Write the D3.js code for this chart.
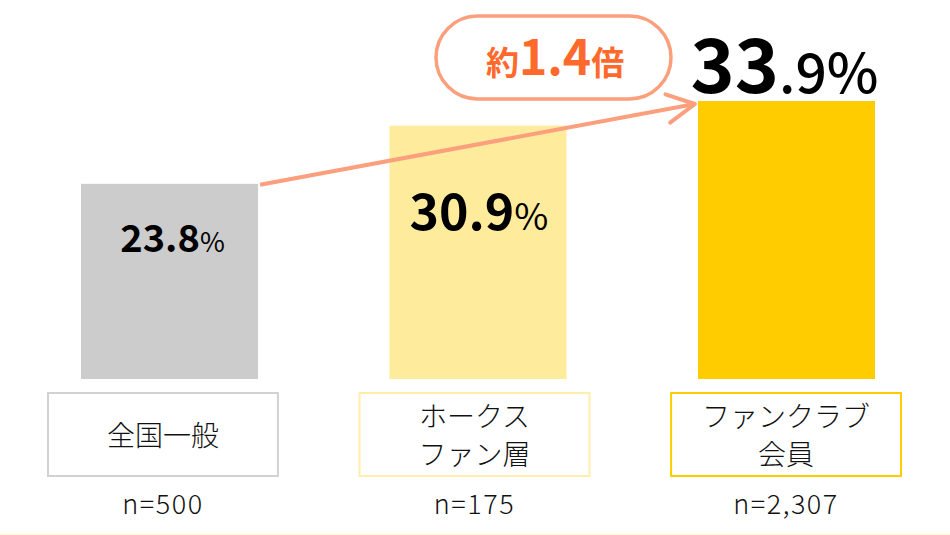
<!DOCTYPE html>
<html>
<head>
<meta charset="utf-8">
<script src="https://cdn.jsdelivr.net/npm/d3@7"></script>
<style>
  html, body { margin: 0; padding: 0; background: #fff; }
  svg { display: block; font-family: 'Noto Sans CJK JP', 'Noto Sans', sans-serif; }
</style>
</head>
<body>
<div id="chart"></div>
<script>
// data
var categories = ['全国一般', 'ホークスファン層', 'ファンクラブ会員']
var categoryLines = [['全国一般'], ['ホークス', 'ファン層'], ['ファンクラブ', '会員']]
var values = [23.8, 30.9, 33.9]
var sampleLabels = ['n=500', 'n=175', 'n=2,307']
var ratioLabel = ['約', '1.4', '倍']

// styles per bar
var barColors = ['#cccccc', '#ffeb9c', '#ffcc00']
var boxColors = ['#d2d2d2', '#ffeeaa', '#ffcc00']
// value label: int font, decimal font, split point, offsets from bar top
var labelStyle = [
    {main: 38, rest: 27, split: 4, dx: 3, dy: 68},
    {main: 50, rest: 37, split: 4, dx: 1, dy: 104},
    {main: 75, rest: 55, split: 2, dx: -2, dy: -8}
]

var width = 950
var height = 535

var svg = d3.select('#chart')
    .append('svg')
    .attr('width', width)
    .attr('height', height)

var x = d3.scaleBand().domain(categories).range([81, 875]).paddingInner(0.426).paddingOuter(0)
var xBox = d3.scaleBand().domain(categories).range([48, 901]).paddingInner(0.262).paddingOuter(0)
var y = d3.scaleLinear().domain([0, 40]).range([379, 51])

// faint baseline at the bottom
svg.append('line')
    .attr('x1', 0).attr('x2', width)
    .attr('y1', 534.5).attr('y2', 534.5)
    .attr('stroke', '#fff6d2')
    .attr('stroke-width', 1.5)

// bars
svg.selectAll('rect.bar')
    .data(values)
    .enter().append('rect')
    .attr('class', 'bar')
    .attr('x', (d, i) => x(categories[i]))
    .attr('y', d => y(d))
    .attr('width', x.bandwidth())
    .attr('height', d => y(0) - y(d))
    .attr('fill', (d, i) => barColors[i])

// value labels
values.forEach(function (v, i) {
    var s = v.toFixed(1)
    var st = labelStyle[i]
    var t = svg.append('text')
        .attr('x', x(categories[i]) + x.bandwidth() / 2 + st.dx)
        .attr('y', y(v) + st.dy)
        .attr('text-anchor', 'middle')
        .attr('fill', '#000')
    t.append('tspan')
        .attr('font-size', st.main)
        .attr('font-weight', 700)
        .text(s.slice(0, st.split))
    t.append('tspan')
        .attr('font-size', st.rest)
        .attr('font-weight', i == 2 ? 500 : 400)
        .text(s.slice(st.split) + '%')
})

// category boxes
var boxTop = 393
var boxH = 83
categories.forEach(function (c, i) {
    var bx = xBox(c)
    var cx = bx + xBox.bandwidth() / 2
    svg.append('rect')
        .attr('x', bx)
        .attr('y', boxTop)
        .attr('width', xBox.bandwidth())
        .attr('height', boxH)
        .attr('fill', '#fff')
        .attr('stroke', boxColors[i])
        .attr('stroke-width', 2)

    var lines = categoryLines[i]
    var lh = 38
    var first = boxTop + boxH / 2 - (lines.length - 1) * lh / 2 + 11
    lines.forEach(function (ln, j) {
        svg.append('text')
            .attr('x', cx)
            .attr('y', first + j * lh)
            .attr('text-anchor', 'middle')
            .attr('font-size', 28)
            .attr('font-weight', 300)
            .attr('fill', '#111')
            .text(ln)
    })

    svg.append('text')
        .attr('x', cx)
        .attr('y', 514)
        .attr('text-anchor', 'middle')
        .attr('font-size', 27)
        .attr('font-weight', 300)
        .attr('letter-spacing', 1.5)
        .attr('fill', '#111')
        .text(sampleLabels[i])
})

// arrow from first bar to last bar
var arrowColor = '#fb9f7c'
var x0 = x(categories[0]) + x.bandwidth() + 2
var y0 = y(values[0]) + 1
var x1 = x(categories[2]) - 3
var y1 = y(values[2]) + 3
svg.append('line')
    .attr('x1', x0).attr('y1', y0)
    .attr('x2', x1).attr('y2', y1)
    .attr('stroke', arrowColor)
    .attr('stroke-width', 4)

var ang = Math.atan2(y1 - y0, x1 - x0)
var len = 31
var a1 = ang + Math.PI - 0.46
var a2 = ang + Math.PI + 0.5
svg.append('path')
    .attr('d', 'M' + (x1 + len * Math.cos(a1)) + ',' + (y1 + len * Math.sin(a1)) +
        'L' + x1 + ',' + y1 +
        'L' + (x1 + len * Math.cos(a2)) + ',' + (y1 + len * Math.sin(a2)))
    .attr('fill', 'none')
    .attr('stroke', arrowColor)
    .attr('stroke-width', 4)
    .attr('stroke-linecap', 'round')
    .attr('stroke-linejoin', 'round')

// ratio bubble
svg.append('rect')
    .attr('x', 436)
    .attr('y', 16)
    .attr('width', 235)
    .attr('height', 83)
    .attr('rx', 41.5)
    .attr('ry', 41.5)
    .attr('fill', '#fff')
    .attr('stroke', arrowColor)
    .attr('stroke-width', 3.5)

var rt = svg.append('text')
    .attr('x', 555)
    .attr('y', 75)
    .attr('text-anchor', 'middle')
    .attr('fill', '#ff6a2c')
    .attr('font-weight', 700)
rt.append('tspan').attr('font-size', 33).text(ratioLabel[0])
rt.append('tspan').attr('font-size', 48).text(ratioLabel[1])
rt.append('tspan').attr('font-size', 33).text(ratioLabel[2])
</script>
</body>
</html>
